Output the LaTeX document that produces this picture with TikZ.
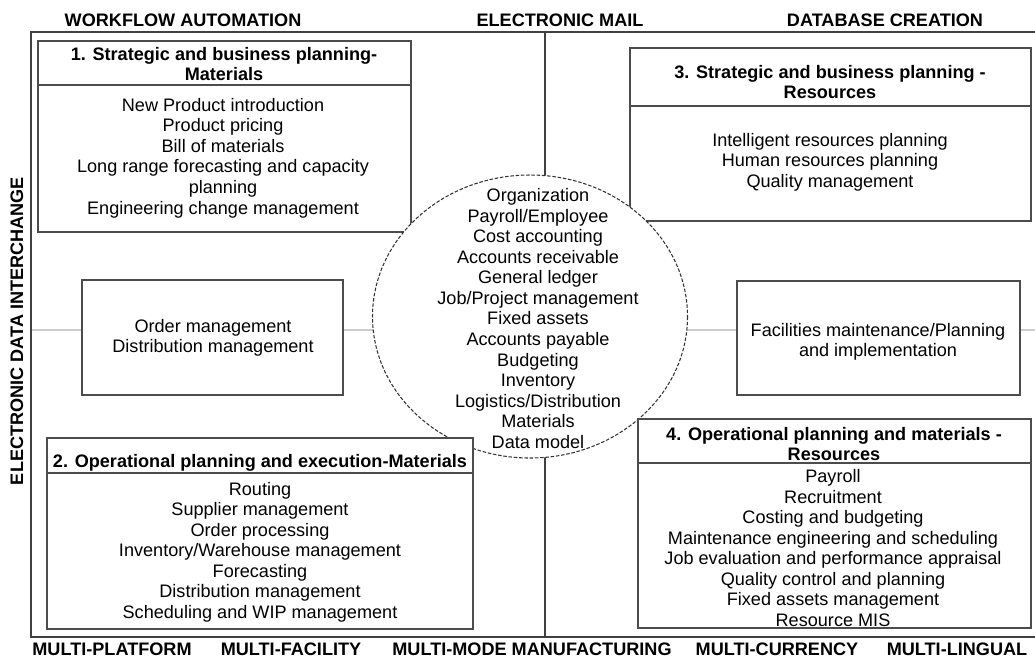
\documentclass[tikz,border=0pt]{standalone}
\usepackage{fontspec}
\setmainfont{Liberation Sans}
\begin{document}
\begin{tikzpicture}[x=0.2mm, y=-0.2mm,
	every node/.style={font=\fontsize{10.3}{11.7}\selectfont, align=center, inner sep=0pt},
	head/.style={font=\fontsize{10.3}{11.7}\selectfont\bfseries},
	box/.style={draw=black!70, line width=0.7pt, fill=white},
	rim/.style={draw=black!75, line width=1.1pt},
	core/.style={draw=black!80, fill=white, line width=0.6pt, dash pattern=on 2pt off 1pt}]

	\useasboundingbox (0,0) rectangle (1035,657);

	% frame and axes
	\draw[black!20, line width=0.8pt] (31,330) -- (1035,330);
	\draw[rim] (545,32) -- (545,637);
	\draw[rim] (1035,32) -- (31,32) -- (31,637) -- (1035,637);

	\node[head] (wfa) at (183,20) {WORKFLOW AUTOMATION};
	\node[head] (mail) at (560,20) {ELECTRONIC MAIL};
	\node[head] (dbc) at (885,20) {DATABASE CREATION};
	\node[head, rotate=90] (edi) at (17,331) {ELECTRONIC DATA INTERCHANGE};

	\node[head] (mpf) at (112,649) {MULTI-PLATFORM};
	\node[head] (mfc) at (291,649) {MULTI-FACILITY};
	\node[head] (mmm) at (532,649) {MULTI-MODE MANUFACTURING};
	\node[head] (mcu) at (777,649) {MULTI-CURRENCY};
	\node[head] (mli) at (957,649) {MULTI-LINGUAL};

	% 1
	\filldraw[box] (38,41) rectangle (411,232);
	\draw[box] (38,85) -- (411,85);
	\node[head] (h1) at (224,64) {1. Strategic and business planning-\\Materials};
	\node (b1) at (223,158) {New Product introduction\\Product pricing\\Bill of materials\\
		Long range forecasting and capacity\\planning\\Engineering change management};

	% 3
	\filldraw[box] (630,48) rectangle (1031,221);
	\draw[box] (630,106) -- (1031,106);
	\node[head] (h3) at (830,82) {3. Strategic and business planning -\\Resources};
	\node (b3) at (830,162) {Intelligent resources planning\\Human resources planning\\Quality management};

	% middle boxes
	\filldraw[box] (82,280) rectangle (343,395);
	\node (om) at (213,338) {Order management\\Distribution management};
	\filldraw[box] (737,281) rectangle (1020,395);
	\node (fm) at (878,342) {Facilities maintenance/Planning\\and implementation};

	% core
	\filldraw[core] (530,316.5) ellipse [x radius=157.5, y radius=141.5];
	\node (org) at (538,318.5) {Organization\\Payroll/Employee\\Cost accounting\\Accounts receivable\\
		General ledger\\Job/Project management\\Fixed assets\\Accounts payable\\Budgeting\\
		Inventory\\Logistics/Distribution\\Materials\\Data model};

	% 2
	\filldraw[box] (47,438) rectangle (473,629);
	\draw[box] (47,473) -- (473,473);
	\node[head] (h2) at (260,463) {2. Operational planning and execution-Materials};
	\node (b2) at (260,552) {Routing\\Supplier management\\Order processing\\
		Inventory/Warehouse management\\Forecasting\\Distribution management\\Scheduling and WIP management};

	% 4
	\filldraw[box] (638,419) rectangle (1031,628);
	\draw[box] (638,463) -- (1031,463);
	\node[head] (h4) at (834,444) {4. Operational planning and materials -\\Resources};
	\node (b4) at (833,548) {Payroll\\Recruitment\\Costing and budgeting\\Maintenance engineering and scheduling\\
		Job evaluation and performance appraisal\\Quality control and planning\\Fixed assets management\\Resource MIS};

\end{tikzpicture}
\end{document}
